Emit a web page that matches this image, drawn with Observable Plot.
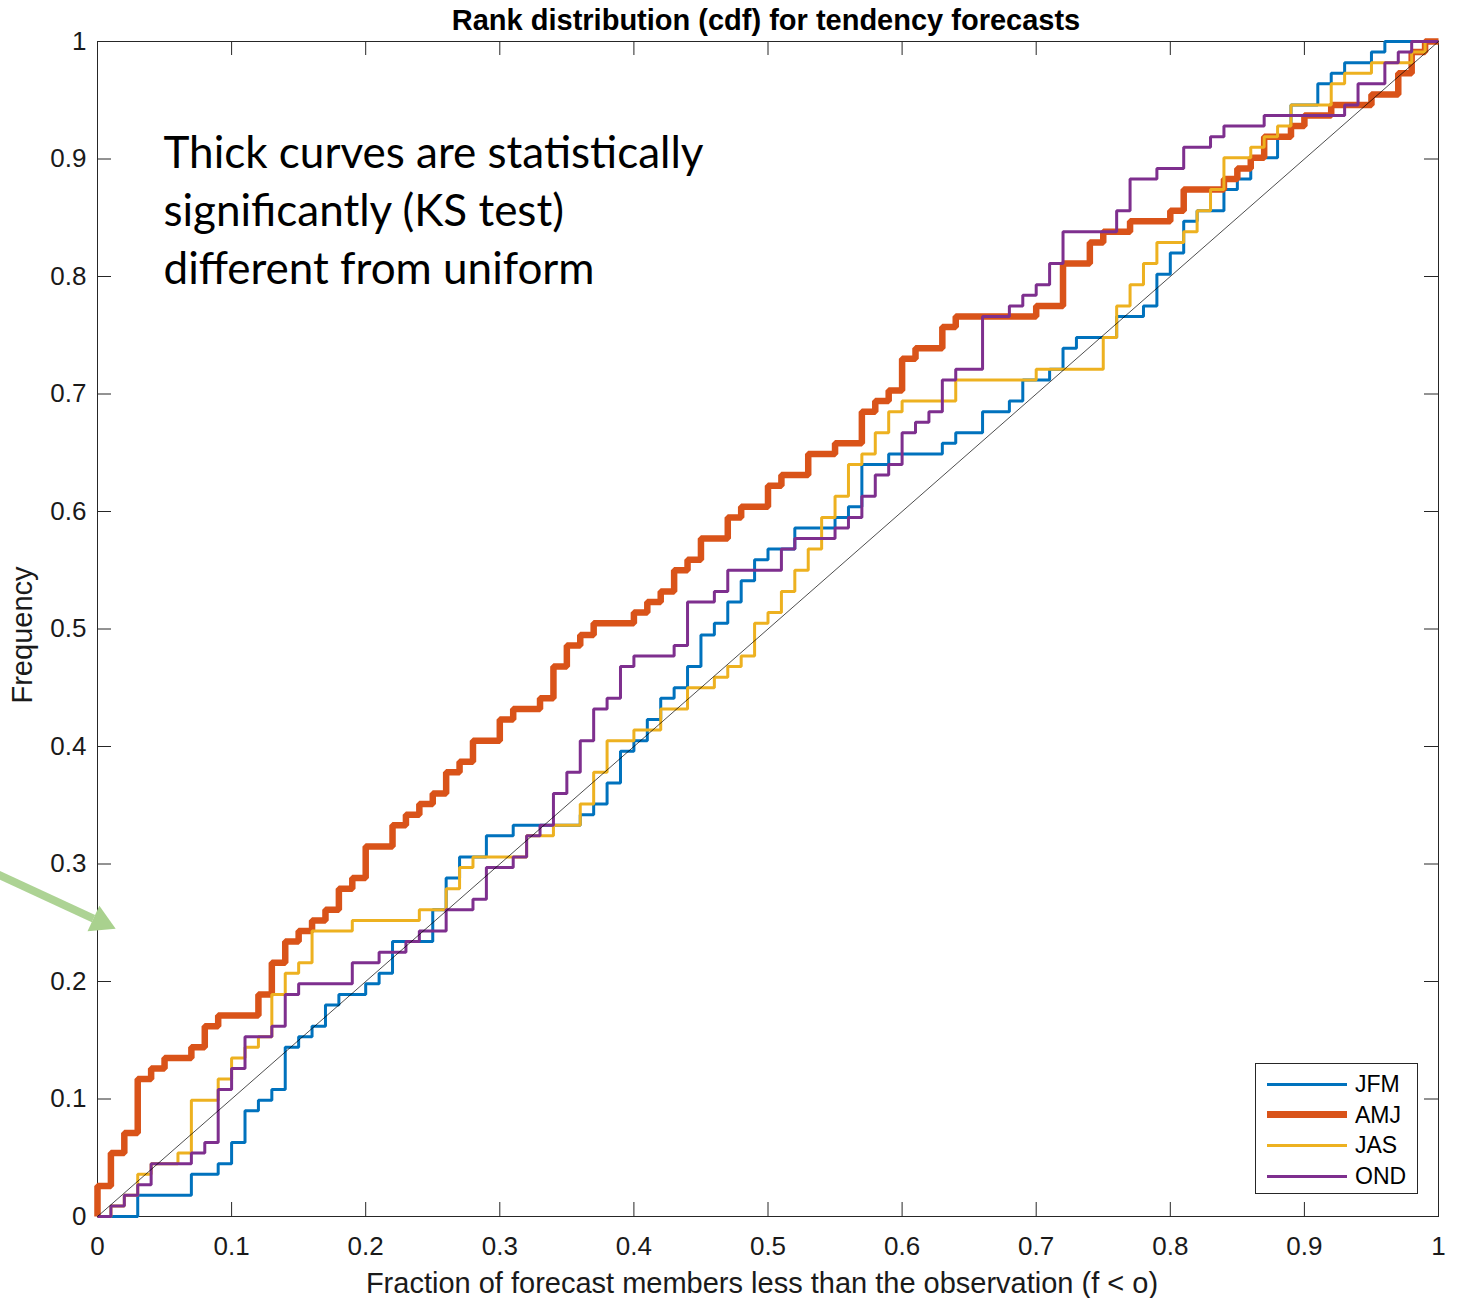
<!DOCTYPE html>
<html><head><meta charset="utf-8">
<script src="https://cdn.jsdelivr.net/npm/d3@7"></script>
<script src="https://cdn.jsdelivr.net/npm/@observablehq/plot@0.6"></script>
<style>
html,body{margin:0;padding:0;background:#fff;}
#wrap{position:relative;width:1465px;height:1298px;overflow:hidden;}
#legend{position:absolute;left:1255px;top:1063px;width:161px;height:129px;border:1px solid #262626;background:#fff;font-family:"Liberation Sans",Arial,sans-serif;font-size:23px;color:#000;}
.row{position:absolute;left:0;width:161px;height:30px;}
.sw{position:absolute;left:11px;width:80px;}
.lab{position:absolute;left:99px;top:0;line-height:30px;}
</style></head><body><div id="wrap"></div>
<script>
// ---------- data ----------
const seasons = ["JFM", "AMJ", "JAS", "OND"];
const seasonColors = ["#0072BD", "#D95319", "#EDB120", "#7E2F8E"];
const seasonWidths = [3, 6.5, 3, 3];

const jfmX = [0,0.03,0.07,0.09,0.10,0.11,0.12,0.13,0.14,0.15,0.16,0.17,0.18,0.20,0.21,0.22,0.25,0.26,0.27,0.29,0.31,0.36,0.37,0.38,0.39,0.40,0.41,0.42,0.43,0.44,0.45,0.46,0.47,0.48,0.49,0.50,0.52,0.55,0.56,0.57,0.59,0.63,0.64,0.66,0.68,0.69,0.71,0.72,0.73,0.76,0.78,0.79,0.80,0.81,0.82,0.84,0.85,0.86,0.88,0.89,0.91,0.92,0.93,0.95,0.96,1];
const jfmY = [0,0.018,0.036,0.045,0.063,0.090,0.099,0.108,0.144,0.153,0.162,0.180,0.189,0.198,0.207,0.234,0.261,0.288,0.306,0.324,0.333,0.342,0.351,0.369,0.396,0.405,0.423,0.441,0.450,0.468,0.495,0.505,0.523,0.541,0.559,0.568,0.586,0.595,0.604,0.640,0.649,0.658,0.667,0.685,0.694,0.712,0.721,0.739,0.748,0.766,0.775,0.802,0.820,0.847,0.856,0.874,0.883,0.901,0.919,0.946,0.964,0.973,0.982,0.991,1,1];

const amjX = [0,0,0.01,0.02,0.03,0.04,0.05,0.07,0.08,0.09,0.12,0.13,0.14,0.15,0.16,0.17,0.18,0.19,0.20,0.22,0.23,0.24,0.25,0.26,0.27,0.28,0.30,0.31,0.33,0.34,0.35,0.36,0.37,0.40,0.41,0.42,0.43,0.44,0.45,0.47,0.48,0.50,0.51,0.53,0.55,0.57,0.58,0.59,0.60,0.61,0.63,0.64,0.70,0.72,0.74,0.75,0.77,0.80,0.81,0.84,0.85,0.86,0.87,0.89,0.90,0.92,0.95,0.97,0.98,0.99,1];
const amjY = [0,0.026,0.054,0.071,0.117,0.126,0.135,0.144,0.162,0.171,0.189,0.216,0.234,0.243,0.252,0.261,0.279,0.288,0.315,0.333,0.342,0.351,0.360,0.378,0.387,0.405,0.423,0.432,0.441,0.468,0.486,0.495,0.505,0.514,0.523,0.532,0.550,0.559,0.577,0.595,0.604,0.622,0.631,0.649,0.658,0.685,0.694,0.703,0.730,0.739,0.757,0.766,0.775,0.811,0.829,0.838,0.847,0.856,0.874,0.883,0.892,0.901,0.919,0.928,0.937,0.946,0.955,0.973,0.991,1,1];

const jasX = [0,0.01,0.02,0.03,0.04,0.06,0.07,0.09,0.10,0.11,0.12,0.13,0.14,0.15,0.16,0.19,0.24,0.26,0.27,0.28,0.32,0.34,0.36,0.37,0.38,0.40,0.42,0.44,0.46,0.47,0.48,0.49,0.50,0.51,0.52,0.53,0.54,0.55,0.56,0.57,0.58,0.59,0.60,0.64,0.70,0.75,0.76,0.77,0.78,0.79,0.81,0.82,0.83,0.84,0.86,0.87,0.88,0.89,0.92,0.93,0.95,0.98,0.99,1];
const jasY = [0,0.009,0.018,0.036,0.045,0.054,0.099,0.117,0.135,0.144,0.153,0.189,0.207,0.216,0.243,0.252,0.261,0.279,0.297,0.306,0.324,0.333,0.351,0.378,0.405,0.414,0.432,0.450,0.459,0.468,0.477,0.505,0.514,0.532,0.550,0.568,0.595,0.613,0.640,0.649,0.667,0.685,0.694,0.712,0.721,0.748,0.775,0.793,0.811,0.829,0.838,0.856,0.874,0.901,0.910,0.919,0.928,0.946,0.964,0.973,0.982,0.991,1,1];

const ondX = [0,0.01,0.02,0.03,0.04,0.07,0.08,0.09,0.10,0.11,0.13,0.14,0.15,0.19,0.21,0.23,0.24,0.26,0.28,0.29,0.31,0.32,0.33,0.34,0.35,0.36,0.37,0.38,0.39,0.40,0.43,0.44,0.46,0.47,0.51,0.52,0.55,0.56,0.57,0.58,0.59,0.60,0.61,0.62,0.63,0.64,0.66,0.68,0.69,0.70,0.71,0.72,0.76,0.77,0.79,0.81,0.83,0.84,0.87,0.93,0.94,0.96,0.97,0.98,1];
const ondY = [0,0.009,0.018,0.027,0.045,0.054,0.063,0.108,0.126,0.153,0.162,0.189,0.198,0.216,0.225,0.234,0.243,0.261,0.270,0.297,0.306,0.324,0.333,0.360,0.378,0.405,0.432,0.441,0.468,0.477,0.486,0.523,0.532,0.550,0.568,0.577,0.586,0.595,0.613,0.631,0.640,0.667,0.676,0.685,0.712,0.721,0.766,0.775,0.784,0.793,0.811,0.838,0.856,0.883,0.892,0.910,0.919,0.928,0.937,0.946,0.964,0.982,0.991,1,1];

const uniformX = [0, 1];
const uniformY = [0, 1];

const xTicks = [0,0.1,0.2,0.3,0.4,0.5,0.6,0.7,0.8,0.9,1];
const xTickLabels = ["0","0.1","0.2","0.3","0.4","0.5","0.6","0.7","0.8","0.9","1"];
const yTicks = [0,0.1,0.2,0.3,0.4,0.5,0.6,0.7,0.8,0.9,1];
const yTickLabels = ["0","0.1","0.2","0.3","0.4","0.5","0.6","0.7","0.8","0.9","1"];

const titleText = "Rank distribution (cdf) for tendency forecasts";
const xLabelText = "Fraction of forecast members less than the observation (f < o)";
const yLabelText = "Frequency";
const noteText = "Thick curves are statistically\nsignificantly (KS test)\ndifferent from uniform";
// green annotation arrow (data units; starts left of the frame)
const arrowLine = [{x1: -0.076, y1: 0.292, x2: -0.003, y2: 0.2535}];
const arrowHead = [{x: 0.0025, y: 0.2507}];

// ---------- build ----------
const toRows = (xs, ys) => xs.map((x, i) => ({x, y: ys[i]}));
const seriesRows = [toRows(jfmX, jfmY), toRows(amjX, amjY), toRows(jasX, jasY), toRows(ondX, ondY)];
const diag = toRows(uniformX, uniformY);

const W = 1465, H = 1298, mL = 97, mR = 27, mT = 41, mB = 82;
const innerW = W - mL - mR, innerH = H - mT - mB, tickLen = 14;
const axisColor = "#262626";
const xLab = new Map(xTicks.map((t, i) => [t, xTickLabels[i]]));
const yLab = new Map(yTicks.map((t, i) => [t, yTickLabels[i]]));

const chart = Plot.plot({
  width: W, height: H,
  marginLeft: mL, marginRight: mR, marginTop: mT, marginBottom: mB,
  style: {fontFamily: "'Liberation Sans', Arial, sans-serif", fontSize: "26px", color: "#1a1a1a", background: "white", overflow: "visible"},
  x: {domain: [0, 1]},
  y: {domain: [0, 1]},
  marks: [
    Plot.axisX(xTicks, {tickSize: 0, tickPadding: 20, tickFormat: d => xLab.get(d), label: null, fontSize: 26}),
    Plot.axisY(yTicks, {tickSize: 0, tickPadding: 11, tickFormat: d => yLab.get(d), label: null, fontSize: 26}),
    Plot.tickX(xTicks, {x: d => d, insetTop: innerH - tickLen, stroke: axisColor, strokeWidth: 1}),
    Plot.tickX(xTicks, {x: d => d, insetBottom: innerH - tickLen, stroke: axisColor, strokeWidth: 1}),
    Plot.tickY(yTicks, {y: d => d, insetRight: innerW - tickLen, stroke: axisColor, strokeWidth: 1}),
    Plot.tickY(yTicks, {y: d => d, insetLeft: innerW - tickLen, stroke: axisColor, strokeWidth: 1}),
    Plot.frame({stroke: axisColor, strokeWidth: 1}),
    ...seriesRows.map((rows, i) => Plot.line(rows, {
      x: "x", y: "y", curve: "step-after",
      stroke: seasonColors[i], strokeWidth: seasonWidths[i],
      strokeLinejoin: "miter", strokeLinecap: "butt"
    })),
    Plot.line(diag, {x: "x", y: "y", stroke: "black", strokeWidth: 0.7}),
    Plot.link(arrowLine, {x1: "x1", y1: "y1", x2: "x2", y2: "y2", stroke: "#a9d18e", strokeWidth: 8, strokeOpacity: 0.95}),
    Plot.dot(arrowHead, {x: "x", y: "y", symbol: "triangle", r: 10.5, rotate: 114.8, fill: "#a9d18e", stroke: "none"}),
    Plot.text([titleText], {text: d => d, frameAnchor: "top", lineAnchor: "middle", dx: -2, dy: -21, fontWeight: "bold", fontSize: 29, fill: "black"}),
    Plot.text([xLabelText], {text: d => d, frameAnchor: "bottom", lineAnchor: "middle", dx: -6, dy: 67, fontSize: 29, fill: "#1a1a1a"}),
    Plot.text([yLabelText], {text: d => d, frameAnchor: "left", textAnchor: "middle", lineAnchor: "middle", dx: -75, dy: 6, rotate: -90, fontSize: 29, fill: "#1a1a1a"}),
    Plot.text([noteText], {text: d => d, frameAnchor: "top-left", textAnchor: "start", lineAnchor: "middle",
      dx: 66, dy: 166, fontSize: 44, lineHeight: 58 / 44, fontFamily: "Lato, 'Open Sans', sans-serif", fill: "black"})
  ]
});

const wrap = document.getElementById("wrap");
wrap.appendChild(chart);

// legend (inside the axes, lower right)
const legend = document.createElement("div");
legend.id = "legend";
seasons.forEach((s, i) => {
  const row = document.createElement("div");
  row.className = "row";
  row.style.top = (5 + i * 30.7) + "px";
  const sw = document.createElement("div");
  sw.className = "sw";
  sw.style.height = seasonWidths[i] + "px";
  sw.style.top = (15 - seasonWidths[i] / 2) + "px";
  sw.style.background = seasonColors[i];
  const lab = document.createElement("div");
  lab.className = "lab";
  lab.textContent = s;
  row.appendChild(sw); row.appendChild(lab);
  legend.appendChild(row);
});
wrap.appendChild(legend);
</script>
</body></html>
